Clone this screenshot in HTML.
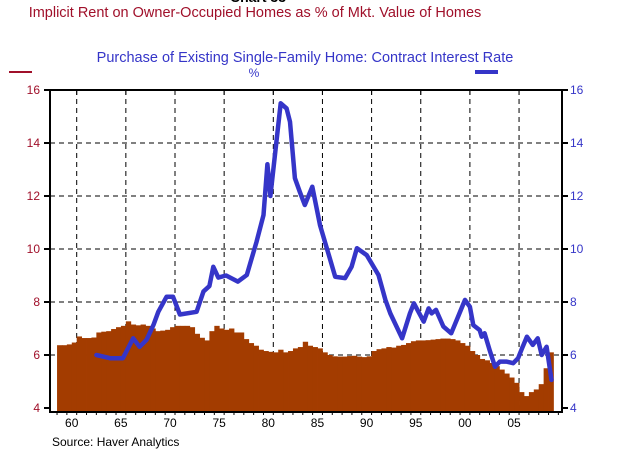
<!DOCTYPE html>
<html><head><meta charset="utf-8">
<style>
html,body{margin:0;padding:0;background:#fff;}
svg{display:block;font-family:"Liberation Sans",Arial,sans-serif;}
</style></head>
<body>
<svg id="chart" width="631" height="455" viewBox="0 0 631 455">
  <text x="258" y="2" text-anchor="middle" font-size="14" font-weight="bold" fill="#000">Chart 33</text>
  <text x="255" y="17" text-anchor="middle" font-size="14.5" fill="#A0102A">Implicit Rent on Owner-Occupied Homes as % of Mkt. Value of Homes</text>
  <text x="305" y="62" text-anchor="middle" font-size="14.5" fill="#3535C8">Purchase of Existing Single-Family Home: Contract Interest Rate</text>
  <text x="254" y="77" text-anchor="middle" font-size="12" fill="#3535C8">%</text>
  <line x1="9" y1="72" x2="32" y2="72" stroke="#A0102A" stroke-width="2"/>
  <line x1="475" y1="72" x2="498" y2="72" stroke="#3535C8" stroke-width="4"/>
  <g id="grid"></g>
  <g id="bars"></g>
  <g id="line"></g>
  <g id="axes"></g>
  <text x="52" y="446" font-size="12" fill="#000">Source: Haver Analytics</text>
</svg>
<script>
// Implicit rent, semi-annual, starting 1958.0
const rentStart = 1958;
const rentValues = [
6.37,6.37, 6.4,6.47, 6.7,6.64, 6.64,6.66, 6.85,6.88, 6.9,6.98, 7.05,7.1, 7.27,7.15, 7.12,7.15, 7.1,7.0,
6.9,6.92, 6.95,7.05, 7.1,7.1, 7.1,7.05, 6.8,6.65, 6.55,6.9, 7.1,7.0, 6.95,7.0, 6.85,6.85, 6.6,6.45,
6.35,6.2, 6.15,6.12, 6.1,6.2, 6.1,6.15, 6.25,6.3, 6.5,6.35, 6.3,6.25, 6.1,6.0, 5.95,5.94, 5.94,5.96,
5.97,5.94, 5.92,5.95, 6.15,6.22, 6.25,6.3, 6.28,6.35, 6.38,6.45, 6.52,6.55, 6.55,6.56, 6.58,6.6, 6.62,6.62,
6.6,6.55, 6.45,6.35, 6.15,6.0, 5.85,5.8, 5.7,5.58, 5.45,5.3, 5.15,4.95, 4.6,4.45, 4.6,4.7, 4.9,5.5,
6.1];
// Contract interest rate
const rateYears = [1962.0,1963.4,1964.7,1965.75,1966.4,1967.1,1967.8,1968.3,1969.15,1969.8,1970.5,1972.2,1972.9,1973.5,1973.9,1974.4,1975.2,1976.4,1977.3,1978.3,1979.0,1979.4,1979.7,1980.2,1980.75,1981.35,1981.7,1982.2,1982.7,1983.2,1983.97,1984.75,1985.6,1986.3,1987.3,1987.97,1988.5,1989.5,1990.7,1991.4,1991.9,1993.1,1993.9,1994.3,1995.3,1995.8,1996.1,1996.55,1997.3,1998.1,1998.8,1999.5,2000.0,2000.35,2001.0,2001.2,2001.5,2002.0,2002.55,2003.05,2003.7,2004.4,2004.9,2005.3,2005.8,2006.4,2006.9,2007.3,2007.8,2008.3];
const rateValues = [6.0,5.88,5.88,6.63,6.31,6.57,7.13,7.63,8.2,8.2,7.53,7.63,8.4,8.6,9.33,8.92,9.0,8.77,9.02,10.28,11.28,13.2,12.0,13.67,15.5,15.3,14.8,12.67,12.16,11.66,12.35,10.9,9.84,8.95,8.9,9.33,10.03,9.77,9.02,8.08,7.57,6.63,7.57,7.95,7.26,7.76,7.57,7.7,7.07,6.82,7.45,8.08,7.82,7.13,6.94,6.69,6.82,6.19,5.56,5.75,5.75,5.69,5.88,6.25,6.69,6.38,6.63,6.0,6.31,5.06];
const yTicks = [4,6,8,10,12,14,16];
const xLabels = ["60","65","70","75","80","85","90","95","00","05"];

const X0=50, X1=562, Y0=90, Y1=412;
const xs = yr => 76.7 + (yr-1960)*9.83;
const ys = v => 408 - (v-4)*26.5;
const NS="http://www.w3.org/2000/svg";
function mk(tag, attrs, parent){const e=document.createElementNS(NS,tag);for(const k in attrs)e.setAttribute(k,attrs[k]);parent.appendChild(e);return e;}
const grid=document.getElementById('grid'), bars=document.getElementById('bars'), line=document.getElementById('line'), axes=document.getElementById('axes');

yTicks.forEach(v=>{ if(v===4||v===16) return;
  const g=mk('line',{x1:X0,x2:X1,y1:ys(v),y2:ys(v),stroke:'#000','stroke-width':1,'stroke-dasharray':'5,4'},grid);
  
  
});
xLabels.forEach((l,i)=>{ const yr=1960+5*i;
  const g=mk('line',{x1:xs(yr),x2:xs(yr),y1:Y0,y2:Y1,stroke:'#000','stroke-width':1,'stroke-dasharray':'5,4'},grid);
  
  
});
rentValues.forEach((v,i)=>{ const yr=rentStart+i*0.5;
  const x=xs(yr), w=xs(yr+0.5)-x;
  const b=mk('rect',{x:x,y:ys(v),width:w+0.4,height:Y1-ys(v),fill:'#A33C00'},bars);
  
  
});
const pts=rateYears.map((y,i)=>xs(y).toFixed(1)+','+ys(rateValues[i]).toFixed(1)).join(' ');
const pl=mk('polyline',{points:pts,fill:'none',stroke:'#3535C8','stroke-width':4.5,'stroke-linejoin':'round','stroke-linecap':'round'},line);


const fr=mk('rect',{x:X0,y:Y0,width:X1-X0,height:Y1-Y0,fill:'none',stroke:'#000','stroke-width':2},axes);


yTicks.forEach(v=>{
  mk('line',{x1:X0-6,x2:X0,y1:ys(v),y2:ys(v),stroke:'#000','stroke-width':2},axes);
  mk('line',{x1:X1,x2:X1+6,y1:ys(v),y2:ys(v),stroke:'#000','stroke-width':2},axes);
  const tl=mk('text',{x:X0-10,y:ys(v)+4,'text-anchor':'end','font-size':12,fill:'#A0102A'},axes);
  tl.textContent=v;
  
  
  const tr=mk('text',{x:X1+8,y:ys(v)+4,'font-size':12,fill:'#3535C8'},axes);
  tr.textContent=v;
  
  
});
for(let yr=1958; yr<=2009; yr++){
  const x=xs(yr);
  mk('line',{x1:x,x2:x,y1:Y1,y2:Y1+3,stroke:'#000','stroke-width':1},axes);
}
xLabels.forEach((l,i)=>{ const yr=1960+5*i;
  mk('line',{x1:xs(yr),x2:xs(yr),y1:Y0,y2:Y0+5,stroke:'#000','stroke-width':1},axes);
  const t=mk('text',{x:xs(yr)-5,y:Y1+15,'text-anchor':'middle','font-size':12,fill:'#000'},axes);
  t.textContent=l;
  
  
});
</script>
</body></html>
